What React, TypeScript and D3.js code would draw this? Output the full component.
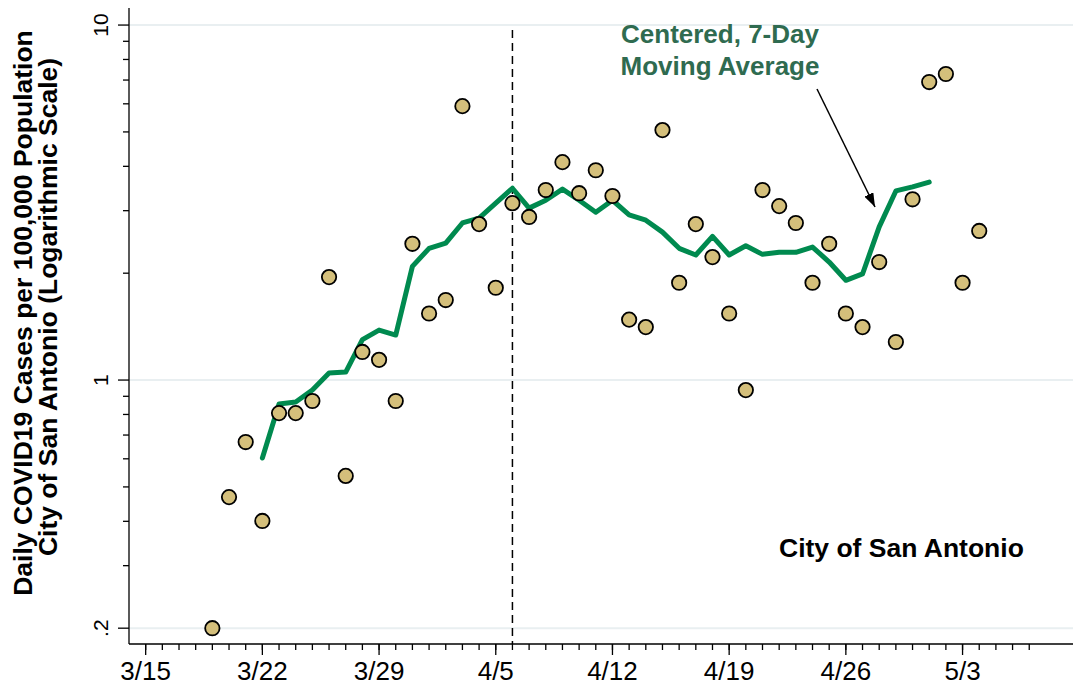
import React from "react";
import * as d3 from "d3";

// ---- data ----
const scatterDates = [
  "3/19","3/20","3/21","3/22","3/23","3/24","3/25","3/26","3/27","3/28","3/29","3/30","3/31",
  "4/1","4/2","4/3","4/4","4/5","4/6","4/7","4/8","4/9","4/10","4/11","4/12","4/13","4/14","4/15",
  "4/16","4/17","4/18","4/19","4/20","4/21","4/22","4/23","4/24","4/25","4/26","4/27","4/28","4/29","4/30",
  "5/1","5/2","5/3","5/4",
];
const dailyCases = [
  0.2, 0.468, 0.669, 0.401, 0.807, 0.807, 0.873, 1.95, 0.537, 1.2, 1.14, 0.873, 2.42,
  1.54, 1.68, 5.91, 2.75, 1.82, 3.15, 2.88, 3.43, 4.11, 3.36, 3.9, 3.3, 1.48, 1.41, 5.06,
  1.88, 2.75, 2.22, 1.54, 0.937, 3.43, 3.09, 2.77, 1.88, 2.42, 1.54, 1.41, 2.15, 1.28, 3.23,
  6.91, 7.28, 1.88, 2.63,
];
const maDates = [
  "3/22","3/23","3/24","3/25","3/26","3/27","3/28","3/29","3/30","3/31",
  "4/1","4/2","4/3","4/4","4/5","4/6","4/7","4/8","4/9","4/10","4/11","4/12","4/13","4/14","4/15",
  "4/16","4/17","4/18","4/19","4/20","4/21","4/22","4/23","4/24","4/25","4/26","4/27","4/28","4/29","4/30",
  "5/1",
];
const movingAvg = [
  0.603, 0.856, 0.867, 0.937, 1.046, 1.053, 1.3, 1.383, 1.339, 2.09,
  2.35, 2.43, 2.77, 2.86, 3.15, 3.47, 3.05, 3.21, 3.45, 3.21, 2.97, 3.21, 2.92, 2.82, 2.61,
  2.35, 2.25, 2.54, 2.25, 2.39, 2.26, 2.29, 2.29, 2.37, 2.15, 1.91, 1.99, 2.7, 3.41, 3.5,
  3.61,
];
const xTickLabels = ["3/15", "3/22", "3/29", "4/5", "4/12", "4/19", "4/26", "5/3"];
const yTickValues = [0.2, 1, 10];
const yTickLabels = [".2", "1", "10"];
const yMinorValues = [0.3, 0.4, 0.5, 0.6, 0.7, 0.8, 0.9, 2, 3, 4, 5, 6, 7, 8, 9];
const markerDate = "4/6";
const axisDomainStart = "3/14";
const axisDomainEnd = "5/10";

const parse = (s: string) => {
  const [m, d] = s.split("/").map(Number);
  return new Date(Date.UTC(2020, m - 1, d));
};

const W = 1073;
const H = 688;
const left = 129;
const right = 1073;
const top = 8;
const bottom = 644;
const FONT = "'Liberation Sans', Arial, Helvetica, sans-serif";

export default function App() {
  const x = d3
    .scaleUtc()
    .domain([parse(axisDomainStart), d3.utcHour.offset(parse(axisDomainEnd), -9)])
    .range([left, right]);
  const y = d3.scaleLog().domain([0.1805, 11.17]).range([bottom, top]);

  const minorDays = d3.utcDay.range(parse("3/15"), d3.utcDay.offset(parse("5/7"), 1));

  const line = d3
    .line<number>()
    .x((_, i) => x(parse(maDates[i])))
    .y((v) => y(v))
    .curve(d3.curveLinear);

  const arrowStart = { x: 817, y: 89 };
  const arrowEnd = { x: 875, y: 207 };

  return (
    <svg
      width={W}
      height={H}
      style={{ position: "absolute", left: 0, top: 0, background: "#fff" }}
      fontFamily={FONT}
    >
      <defs>
        <marker id="arrowhead" viewBox="0 0 14 10" refX="14" refY="5" markerWidth="14" markerHeight="10" orient="auto" markerUnits="userSpaceOnUse">
          <path d="M0,0 L14,5 L0,10 z" fill="#000" />
        </marker>
      </defs>
      {/* gridlines */}
      {yTickValues.map((v) => (
        <line key={"g" + v} x1={left} x2={right} y1={y(v)} y2={y(v)} stroke="#e9eff1" strokeWidth={2} />
      ))}
      {/* y axis */}
      <line x1={left} x2={left} y1={top} y2={bottom} stroke="#000" strokeWidth={1.3} />
      {yTickValues.map((v, i) => (
        <g key={"yt" + v}>
          <line x1={left - 11} x2={left} y1={y(v)} y2={y(v)} stroke="#000" strokeWidth={1.3} />
          <text
            transform={`translate(${108},${y(v)}) rotate(-90)`}
            textAnchor="middle"
            fontSize={21}
            fill="#000"
          >
            {yTickLabels[i]}
          </text>
        </g>
      ))}
      {yMinorValues.map((v) => (
        <line key={"ym" + v} x1={left - 6} x2={left} y1={y(v)} y2={y(v)} stroke="#000" strokeWidth={1.3} />
      ))}
      {/* x axis */}
      <line x1={left} x2={right} y1={bottom} y2={bottom} stroke="#000" strokeWidth={1.3} />
      {minorDays.map((d) => (
        <line key={"xm" + d.getTime()} x1={x(d)} x2={x(d)} y1={bottom} y2={bottom + 6} stroke="#000" strokeWidth={1.3} />
      ))}
      {xTickLabels.map((lab) => (
        <g key={"xt" + lab}>
          <line x1={x(parse(lab))} x2={x(parse(lab))} y1={bottom} y2={bottom + 11} stroke="#000" strokeWidth={1.3} />
          <text x={x(parse(lab))} y={680} textAnchor="middle" fontSize={26} fill="#000">
            {lab}
          </text>
        </g>
      ))}
      {/* y axis title */}
      <g transform="translate(32,313) rotate(-90)">
        <text x={0} y={0} textAnchor="middle" fontSize={26.5} fontWeight="bold" fill="#000">
          Daily COVID19 Cases per 100,000 Population
        </text>
      </g>
      <g transform="translate(57,307) rotate(-90)">
        <text x={0} y={0} textAnchor="middle" fontSize={26.5} fontWeight="bold" fill="#000">
          City of San Antonio (Logarithmic Scale)
        </text>
      </g>
      {/* vertical dashed line */}
      <line
        x1={x(parse(markerDate))}
        x2={x(parse(markerDate))}
        y1={30}
        y2={bottom}
        stroke="#000"
        strokeWidth={1.5}
        strokeDasharray="8,5"
      />
      {/* moving average */}
      <path d={line(movingAvg) || ""} fill="none" stroke="#008a4f" strokeWidth={5} strokeLinejoin="round" strokeLinecap="round" />
      {/* scatter points */}
      {dailyCases.map((v, i) => (
        <circle
          key={"p" + i}
          cx={x(parse(scatterDates[i]))}
          cy={y(v)}
          r={7.2}
          fill="#d4bf7b"
          stroke="#000"
          strokeWidth={1.8}
        />
      ))}
      {/* annotation */}
      <text x={720} y={43} textAnchor="middle" fontSize={26} fontWeight="bold" fill="#2f6b50">
        Centered, 7-Day
      </text>
      <text x={720} y={75} textAnchor="middle" fontSize={26} fontWeight="bold" fill="#2f6b50">
        Moving Average
      </text>
      <line
        x1={arrowStart.x}
        y1={arrowStart.y}
        x2={arrowEnd.x}
        y2={arrowEnd.y}
        stroke="#000"
        strokeWidth={1.5}
        markerEnd="url(#arrowhead)"
      />
      <text x={779} y={557} fontSize={26.5} fontWeight="bold" fill="#000">
        City of San Antonio
      </text>
    </svg>
  );
}
